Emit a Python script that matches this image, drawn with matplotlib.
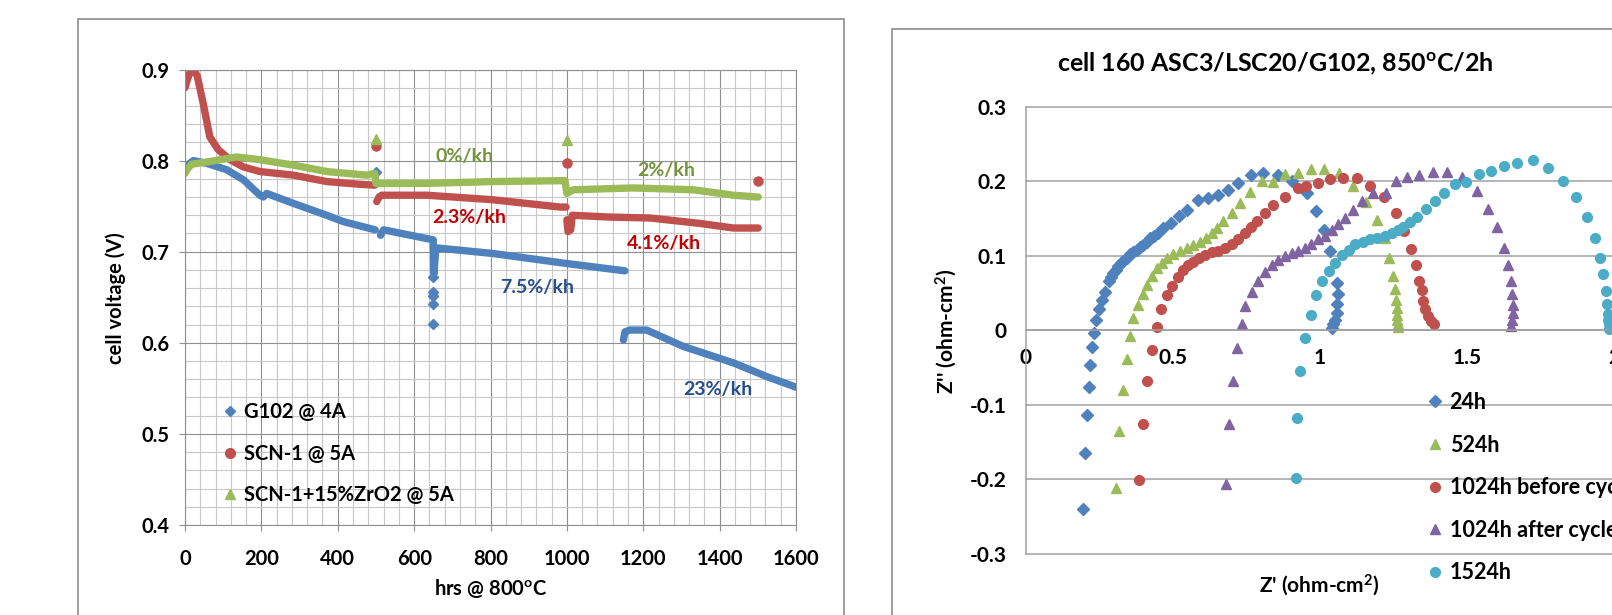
import numpy as np
import matplotlib
matplotlib.use("Agg")
import matplotlib.pyplot as plt
from matplotlib.lines import Line2D
from matplotlib.patches import Rectangle
from matplotlib.ticker import MultipleLocator, FuncFormatter

plt.rcParams['font.family'] = ['Lato', 'DejaVu Sans']
plt.rcParams['font.weight'] = 'bold'
plt.rcParams['axes.unicode_minus'] = False
plt.rcParams['mathtext.default'] = 'regular'

nan = np.nan

# ---- left chart: cell voltage vs. hours ----
g102_hrs = [0, 22, 57, 109, 153, 196, 205, 214, 284, 371, 415, 498, nan,
            512, 520, 650, 652, 656, 663, 807, 1000, 1152, nan,
            1148, 1152, 1165, 1209, 1305, 1436, 1523, 1602]
g102_v = [0.793, 0.800, 0.797, 0.790, 0.779, 0.762, 0.760, 0.764, 0.753, 0.740, 0.733, 0.724, nan,
          0.718, 0.724, 0.713, 0.676, 0.700, 0.704, 0.698, 0.687, 0.679, nan,
          0.603, 0.612, 0.614, 0.614, 0.596, 0.578, 0.563, 0.551]
g102_out_hrs = [500, 650, 650, 650, 650, 650]
g102_out_v = [0.787, 0.672, 0.656, 0.651, 0.643, 0.621]

scn_hrs = [0, 4, 12, 22, 32, 48, 65, 87, 118, 153, 196, 284, 371, 458, 497, nan,
           502, 508, 515, 633, 807, 982, 998, nan,
           1000, 1003, 1010, 1014, 1113, 1218, 1349, 1436, 1501]
scn_v = [0.880, 0.886, 0.896, 0.900, 0.893, 0.862, 0.826, 0.812, 0.801, 0.793, 0.788, 0.784, 0.777, 0.774, 0.773, nan,
         0.755, 0.760, 0.762, 0.762, 0.757, 0.749, 0.749, nan,
         0.735, 0.722, 0.724, 0.740, 0.738, 0.737, 0.731, 0.726, 0.726]
scn_out_hrs = [500, 1000, 1500]
scn_out_v = [0.816, 0.797, 0.778]

zr_hrs = [0, 5, 17, 65, 135, 196, 284, 371, 476, 497, 500, 633, 807, 995,
          1000, 1017, 1174, 1331, 1436, 1501]
zr_v = [0.786, 0.790, 0.796, 0.799, 0.804, 0.801, 0.795, 0.788, 0.784, 0.786, 0.775, 0.775, 0.777, 0.778,
        0.764, 0.768, 0.770, 0.768, 0.762, 0.760]
zr_out_hrs = [500, 1000]
zr_out_v = [0.824, 0.823]

rate_text = ['0%/kh', '2%/kh', '2.3%/kh', '4.1%/kh', '7.5%/kh', '23%/kh']
rate_hrs = [731, 1260, 744, 1254, 922, 1396]
rate_v = [0.805, 0.789, 0.737, 0.709, 0.661, 0.549]
rate_col = ['#77933C', '#77933C', '#C00000', '#C00000', '#254E8C', '#254E8C']

# ---- right chart: impedance spectra ----
z24_re = [0.195, 0.202, 0.208, 0.214, 0.219, 0.224, 0.231, 0.237, 0.248, 0.257, 0.270, 0.281,
          0.288, 0.297, 0.305, 0.314, 0.322, 0.331, 0.342, 0.354, 0.365, 0.376, 0.388, 0.399,
          0.410, 0.422, 0.435, 0.450, 0.467, 0.492, 0.521, 0.549, 0.586, 0.618, 0.652, 0.686,
          0.722, 0.765, 0.807, 0.858, 0.904, 0.955, 0.986, 1.014, 1.034, 1.057, 1.060, 1.059,
          1.057, 1.051, 1.045, 1.042]
z24_im = [-0.239, -0.165, -0.114, -0.076, -0.046, -0.022, -0.003, 0.014, 0.028, 0.041, 0.052, 0.066,
          0.072, 0.077, 0.081, 0.086, 0.090, 0.093, 0.097, 0.102, 0.105, 0.108, 0.112, 0.115,
          0.119, 0.124, 0.126, 0.130, 0.137, 0.144, 0.153, 0.162, 0.175, 0.177, 0.182, 0.188,
          0.197, 0.208, 0.211, 0.209, 0.200, 0.184, 0.160, 0.134, 0.107, 0.064, 0.049, 0.035,
          0.023, 0.014, 0.008, 0.003]

z524_re = [0.305, 0.317, 0.329, 0.342, 0.354, 0.365, 0.382, 0.397, 0.410, 0.427, 0.445, 0.462,
           0.478, 0.499, 0.524, 0.547, 0.569, 0.592, 0.612, 0.632, 0.649, 0.671, 0.700, 0.728,
           0.762, 0.802, 0.839, 0.881, 0.926, 0.968, 1.015, 1.065, 1.113, 1.155, 1.193, 1.221,
           1.233, 1.248, 1.256, 1.259, 1.261, 1.262, 1.263, 1.264, 1.265]
z524_im = [-0.211, -0.135, -0.080, -0.038, -0.007, 0.017, 0.034, 0.049, 0.061, 0.073, 0.084, 0.091,
           0.097, 0.102, 0.106, 0.110, 0.114, 0.118, 0.124, 0.131, 0.137, 0.147, 0.158, 0.171,
           0.185, 0.200, 0.199, 0.210, 0.211, 0.217, 0.217, 0.211, 0.193, 0.172, 0.148, 0.124,
           0.097, 0.073, 0.056, 0.041, 0.030, 0.021, 0.014, 0.009, 0.004]

z1024b_re = [0.386, 0.398, 0.412, 0.427, 0.445, 0.459, 0.478, 0.498, 0.517, 0.535, 0.552, 0.569,
             0.590, 0.609, 0.632, 0.654, 0.677, 0.700, 0.722, 0.745, 0.764, 0.787, 0.813, 0.841,
             0.881, 0.924, 0.952, 0.994, 1.034, 1.077, 1.125, 1.170, 1.218, 1.257, 1.286, 1.310,
             1.327, 1.338, 1.346, 1.351, 1.357, 1.366, 1.378, 1.388]
z1024b_im = [-0.201, -0.125, -0.068, -0.027, 0.004, 0.029, 0.047, 0.060, 0.072, 0.081, 0.087, 0.092,
             0.097, 0.101, 0.105, 0.107, 0.110, 0.116, 0.123, 0.130, 0.139, 0.147, 0.157, 0.168,
             0.179, 0.191, 0.193, 0.198, 0.203, 0.204, 0.204, 0.194, 0.179, 0.157, 0.133, 0.109,
             0.088, 0.066, 0.054, 0.039, 0.028, 0.019, 0.012, 0.008]

z1024a_re = [0.681, 0.690, 0.703, 0.717, 0.734, 0.745, 0.768, 0.790, 0.813, 0.836, 0.858, 0.881,
             0.904, 0.926, 0.949, 0.969, 0.994, 1.017, 1.040, 1.062, 1.085, 1.111, 1.142, 1.179,
             1.224, 1.257, 1.297, 1.338, 1.383, 1.433, 1.484, 1.533, 1.573, 1.601, 1.626, 1.641,
             1.649, 1.654, 1.658, 1.658, 1.654, 1.650]
z1024a_im = [-0.206, -0.126, -0.068, -0.024, 0.009, 0.032, 0.051, 0.066, 0.078, 0.088, 0.095, 0.100,
             0.104, 0.107, 0.111, 0.116, 0.122, 0.127, 0.134, 0.142, 0.151, 0.161, 0.173, 0.184,
             0.184, 0.201, 0.206, 0.209, 0.213, 0.213, 0.206, 0.187, 0.163, 0.139, 0.111, 0.088,
             0.066, 0.049, 0.034, 0.023, 0.014, 0.006]

z1524_re = [0.919, 0.922, 0.931, 0.949, 0.968, 0.986, 1.008, 1.031, 1.051, 1.074, 1.097, 1.119,
            1.145, 1.170, 1.195, 1.221, 1.244, 1.264, 1.283, 1.306, 1.331, 1.361, 1.391, 1.423,
            1.459, 1.496, 1.541, 1.582, 1.626, 1.671, 1.723, 1.777, 1.828, 1.871, 1.907, 1.935,
            1.954, 1.963, 1.972, 1.977, 1.980, 1.981, 1.982, 1.983]
z1524_im = [-0.198, -0.117, -0.055, -0.010, 0.020, 0.047, 0.066, 0.080, 0.091, 0.101, 0.108, 0.116,
            0.118, 0.122, 0.124, 0.127, 0.130, 0.134, 0.139, 0.145, 0.152, 0.163, 0.173, 0.184,
            0.196, 0.199, 0.210, 0.214, 0.220, 0.225, 0.228, 0.218, 0.201, 0.179, 0.152, 0.124,
            0.097, 0.075, 0.053, 0.036, 0.022, 0.014, 0.008, 0.002]

blue, red, green, purple, cyan = '#4F81BD', '#C0504D', '#9BBB59', '#8064A2', '#4BACC6'

W, H = 1612, 615
fig = plt.figure(figsize=(W / 100, H / 100), dpi=100)

def fx(px):
    return px / W

def fy(py):
    return (H - py) / H

# chart frames
fig.patches.append(Rectangle((fx(78), -0.2), fx(844) - fx(78), fy(18.8) + 0.2,
                             transform=fig.transFigure, fill=False, ec='#8C8C8C', lw=1.2))
fig.patches.append(Rectangle((fx(892), -0.2), 1.0, fy(28.6) + 0.2,
                             transform=fig.transFigure, fill=False, ec='#8C8C8C', lw=1.2))

# ---------------- left chart ----------------
ax = fig.add_axes([fx(185), fy(525), fx(796) - fx(185), fy(69.5) - fy(525)])
ax.set_xlim(0, 1600)
ax.set_ylim(0.4, 0.9)
ax.xaxis.set_major_locator(MultipleLocator(200))
ax.xaxis.set_minor_locator(MultipleLocator(40))
ax.yaxis.set_major_locator(MultipleLocator(0.1))
ax.yaxis.set_minor_locator(MultipleLocator(0.02))
ax.yaxis.set_major_formatter(FuncFormatter(lambda v, p: f'{v:.1f}'))
ax.xaxis.set_major_formatter(FuncFormatter(lambda v, p: f'{v:.0f}'))
ax.grid(which='minor', color='#C8C8C8', lw=0.8)
ax.grid(which='major', color='#8F8F8F', lw=0.8)
ax.set_axisbelow(True)
ax.tick_params(which='minor', length=0)
ax.tick_params(which='major', length=4, color='#8F8F8F', labelsize=14.5)
ax.tick_params(axis='y', pad=7)
ax.tick_params(axis='x', pad=13)
for s in ax.spines.values():
    s.set_color('#8F8F8F')
    s.set_linewidth(0.8)

lw = 5.3
ax.plot(g102_hrs, g102_v, color=blue, lw=lw, solid_capstyle='round', solid_joinstyle='round')
ax.plot(g102_out_hrs, g102_out_v, 'D', color=blue, ms=5, ls='none')
ax.plot(scn_hrs, scn_v, color=red, lw=lw, solid_capstyle='round', solid_joinstyle='round')
ax.plot(scn_out_hrs, scn_out_v, 'o', color=red, ms=6.5, ls='none')
ax.plot(zr_hrs, zr_v, color=green, lw=lw, solid_capstyle='round', solid_joinstyle='round')
ax.plot(zr_out_hrs, zr_out_v, '^', color=green, ms=7, ls='none')

for t, hx, vy, c in zip(rate_text, rate_hrs, rate_v, rate_col):
    ax.text(hx, vy, t, color=c, fontsize=14, ha='center', va='center')

h1 = [Line2D([], [], marker='D', color=blue, ls='none', ms=5.5),
      Line2D([], [], marker='o', color=red, ls='none', ms=7),
      Line2D([], [], marker='^', color=green, ls='none', ms=7)]
ax.legend(h1, ['G102 @ 4A', 'SCN-1 @ 5A', 'SCN-1+15%ZrO2 @ 5A'],
          loc='upper left', bbox_to_anchor=(fx(222), fy(402)), bbox_transform=fig.transFigure,
          frameon=False, fontsize=14.5, borderpad=0, borderaxespad=0,
          handlelength=0.8, handletextpad=0.3, labelspacing=1.08)

fig.text(fx(116), fy(298), 'cell voltage (V)', rotation=90, ha='center', va='center', fontsize=14.5)
fig.text(fx(491), fy(588), 'hrs @ 800$^{o}$C', ha='center', va='center', fontsize=14.5)

# ---------------- right chart ----------------
ax2 = fig.add_axes([fx(1026), fy(554), 2.5 * 294 / W, fy(106.7) - fy(554)])
ax2.set_xlim(0, 2.5)
ax2.set_ylim(-0.3, 0.3)
ax2.xaxis.set_major_locator(MultipleLocator(0.5))
ax2.yaxis.set_major_locator(MultipleLocator(0.1))

def gfmt(v, p):
    v = round(v, 3)
    return '0' if abs(v) < 1e-9 else f'{v:g}'

ax2.xaxis.set_major_formatter(FuncFormatter(gfmt))
ax2.yaxis.set_major_formatter(FuncFormatter(gfmt))
ax2.spines['top'].set_visible(False)
ax2.spines['right'].set_visible(False)
ax2.spines['bottom'].set_position(('data', 0))
for s in ('left', 'bottom'):
    ax2.spines[s].set_color('#A0A0A0')
    ax2.spines[s].set_linewidth(1.1)
ax2.yaxis.grid(True, color='#A0A0A0', lw=1.1)
ax2.set_axisbelow(True)
for gl in ax2.get_ygridlines():
    gl.set_clip_on(False)
ax2.tick_params(axis='y', length=0, labelsize=15, pad=14)
ax2.tick_params(axis='x', length=0, labelsize=15, pad=13)

ax2.plot(z24_re, z24_im, 'D', color=blue, ms=6, ls='none', label='24h')
ax2.plot(z524_re, z524_im, '^', color=green, ms=7.5, ls='none', label='524h')
ax2.plot(z1024b_re, z1024b_im, 'o', color=red, ms=7, ls='none', label='1024h before cycle')
ax2.plot(z1024a_re, z1024a_im, '^', color=purple, ms=7.5, ls='none', label='1024h after cycle')
ax2.plot(z1524_re, z1524_im, 'o', color=cyan, ms=7, ls='none', label='1524h')

ax2.legend(loc='upper left', bbox_to_anchor=(fx(1427), fy(392)), bbox_transform=fig.transFigure,
           frameon=False, fontsize=15.5, borderpad=0, borderaxespad=0, numpoints=1,
           handlelength=0.75, handletextpad=0.3, labelspacing=1.0)

fig.text(fx(1275), fy(64), 'cell 160 ASC3/LSC20/G102, 850$^{o}$C/2h', ha='center', va='center',
         fontsize=18)
fig.text(fx(946), fy(331), "Z'' (ohm-cm$^{2}$)", rotation=90, ha='center', va='center', fontsize=15)
fig.text(fx(1319), fy(585.5), "Z' (ohm-cm$^{2}$)", ha='center', va='center', fontsize=15)

fig.savefig('out.png', dpi=100)
